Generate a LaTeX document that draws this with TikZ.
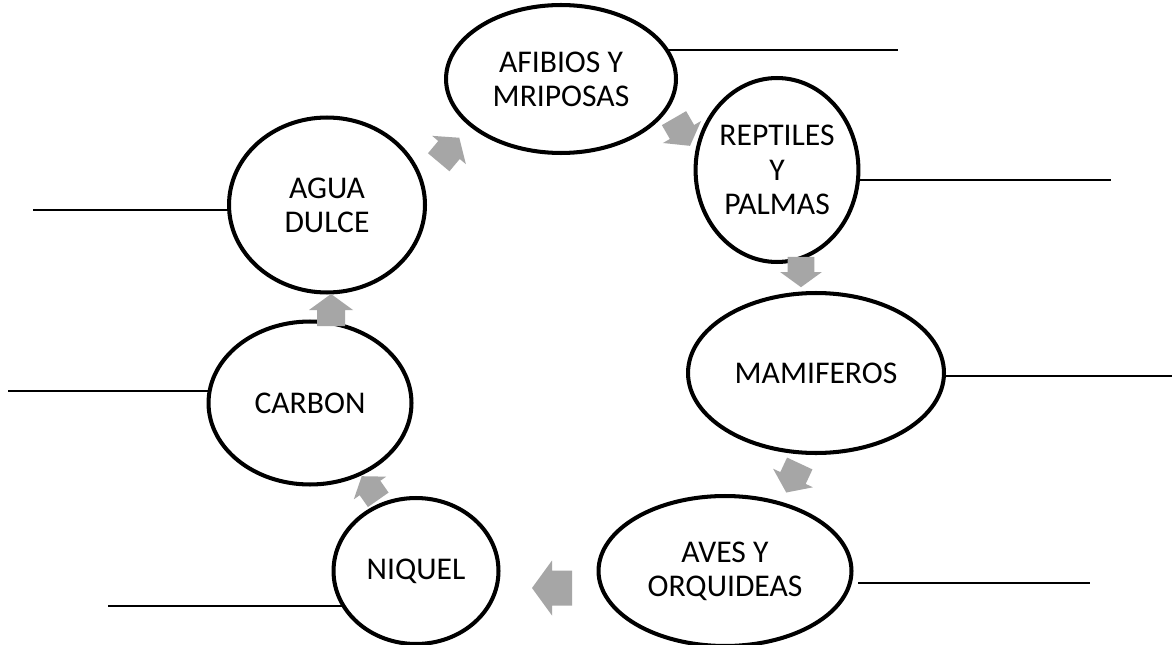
\documentclass[tikz,border=0pt]{standalone}
\usepackage{fontspec}
\setmainfont{Carlito}
\usetikzlibrary{shapes.geometric}
\definecolor{arrowgray}{HTML}{A6A6A6}
\tikzset{
  stage/.style={ellipse, draw=black, fill=white, line width=2.3pt, inner sep=0pt, align=center,
    font=\fontsize{18}{19.5}\selectfont},
  blank/.style={draw=black, line width=0.9pt},
}
\newcommand\cycarrow[3]{%
  \fill[arrowgray, shift={#1}, rotate=#2, scale=#3]
    (-16,-14) -- (0,-14) -- (0,-22) -- (16,0) -- (0,22) -- (0,14) -- (-16,14) -- cycle;}
\begin{document}
\begin{tikzpicture}[x=0.02cm, y=-0.02cm]
\useasboundingbox (0,0) rectangle (1172,645);
\fill[white] (0,0) rectangle (1172,645);
% answer lines
\coordinate (afiA) at (660,50);  \coordinate (afiB) at (898,50);
\coordinate (repA) at (850,180); \coordinate (repB) at (1111,180);
\coordinate (mamA) at (935,376); \coordinate (mamB) at (1172,376);
\coordinate (aveA) at (858,583); \coordinate (aveB) at (1090,583);
\coordinate (niqA) at (345,606); \coordinate (niqB) at (108,606);
\coordinate (carA) at (215,391); \coordinate (carB) at (8,391);
\coordinate (aguA) at (240,210); \coordinate (aguB) at (33,210);
\foreach \n in {afi,rep,mam,ave,niq,car,agu} {\draw[blank] (\n A) -- (\n B);}
\begin{scope}
\clip (0,0) rectangle (1172,645);
\node[stage, minimum width=4.6cm, minimum height=2.96cm] (afi) at (561,79) {AFIBIOS Y\\MRIPOSAS};
\node[stage, minimum width=3.2cm, minimum height=3.68cm] (rep) at (777,170) {REPTILES\\Y\\PALMAS};
\node[stage, minimum width=5.12cm, minimum height=3.2cm] (mam) at (816,373) {MAMIFEROS};
\node[stage, minimum width=5.06cm, minimum height=3.0cm] (ave) at (725,571) {AVES Y\\ORQUIDEAS};
\node[stage, minimum width=3.3cm, minimum height=2.92cm] (niq) at (416,571) {NIQUEL};
\node[stage, minimum width=4.06cm, minimum height=3.26cm] (car) at (310,403) {CARBON};
\node[stage, minimum width=3.92cm, minimum height=3.5cm] (agu) at (327,205) {AGUA\\DULCE};
\end{scope}
% cycle arrows
\coordinate (ar1) at (449,150);
\coordinate (ar2) at (682,132);
\coordinate (ar3) at (801,272);
\coordinate (ar4) at (793,478);
\coordinate (ar5) at (552,588);
\coordinate (ar6) at (370,488);
\coordinate (ar7) at (331,310);
\cycarrow{(ar1)}{50}{1}
\cycarrow{(ar2)}{-60}{1}
\cycarrow{(ar3)}{-90}{0.95}
\cycarrow{(ar4)}{-115}{1}
\cycarrow{(ar5)}{180}{1.25}
\cycarrow{(ar6)}{125}{0.9}
\cycarrow{(ar7)}{90}{1}
\end{tikzpicture}
\end{document}
